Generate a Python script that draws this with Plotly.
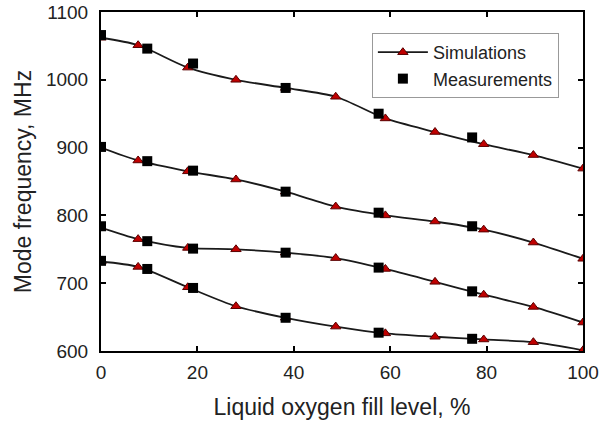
import plotly.graph_objects as go

sim_x = [0, 7.7, 18, 28, 38.3, 48.7, 59, 69.3, 79.4, 89.7, 100]
sim_1 = [1062, 1051, 1018, 1000, 988, 975, 943, 923, 905, 889, 869]
sim_2 = [900, 881, 865, 853, 835, 813, 800, 791, 779, 760, 736]
sim_3 = [782, 765, 752, 750, 745, 737, 721, 702, 683, 665, 642]
sim_4 = [732, 724, 694, 666, 649, 636, 626, 621, 617, 613, 601]

meas_x = [0, 9.6, 19.1, 38.3, 57.6, 77.0]
meas_1 = [1066, 1046, 1024, 988, 950, 915]
meas_2 = [901, 880, 866, 835, 804, 784]
meas_3 = [784, 762, 751, 745, 723, 688]
meas_4 = [733, 721, 693, 649, 627, 618]

x_ticks = [0, 20, 40, 60, 80, 100]
y_ticks = [600, 700, 800, 900, 1000, 1100]

FONT = "Liberation Sans, Arial, sans-serif"

fig = go.Figure()
for i, ys in enumerate([sim_1, sim_2, sim_3, sim_4]):
    fig.add_trace(go.Scatter(
        x=sim_x, y=ys, mode="lines+markers", name="Simulations",
        line=dict(color="#1a1a1a", width=1.8, shape="spline", smoothing=0.8),
        marker=dict(symbol="triangle-up", size=9, color="#c00000",
                    line=dict(color="#5a0000", width=1)),
        legendgroup="sim", showlegend=(i == 0)))

all_mx, all_my = [], []
for ys in [meas_1, meas_2, meas_3, meas_4]:
    all_mx += meas_x
    all_my += ys
fig.add_trace(go.Scatter(
    x=all_mx, y=all_my, mode="markers", name="Measurements",
    marker=dict(symbol="square", size=10, color="black",
                line=dict(color="black", width=0))))

axis_common = dict(
    showline=True, linecolor="black", linewidth=2, mirror="ticks",
    ticks="inside", ticklen=5, tickwidth=1.5, tickcolor="black",
    showgrid=False, zeroline=False, automargin=False,
    tickfont=dict(family=FONT, size=19, color="#222"),
)
fig.update_xaxes(range=[0, 100], tickvals=x_ticks, ticklabelstandoff=3,
                 title=dict(text="Liquid oxygen fill level, %",
                            font=dict(family=FONT, size=23, color="#222"), standoff=17),
                 **axis_common)
fig.update_yaxes(range=[600, 1100], tickvals=y_ticks, ticklabelstandoff=7,
                 title=dict(text="Mode frequency, MHz",
                            font=dict(family=FONT, size=23, color="#222"), standoff=8),
                 **axis_common)

fig.update_layout(
    width=608, height=423,
    margin=dict(l=101, r=25, t=12, b=72, pad=0),
    paper_bgcolor="white", plot_bgcolor="white",
    font=dict(family=FONT, size=18, color="#222"),
    legend=dict(x=0.562, y=0.938, xanchor="left", yanchor="top",
                bordercolor="#999", borderwidth=1, bgcolor="white",
                font=dict(family=FONT, size=18, color="#222"),
                itemwidth=50, tracegroupgap=0),
    showlegend=True,
)

fig.write_html("out.html")
